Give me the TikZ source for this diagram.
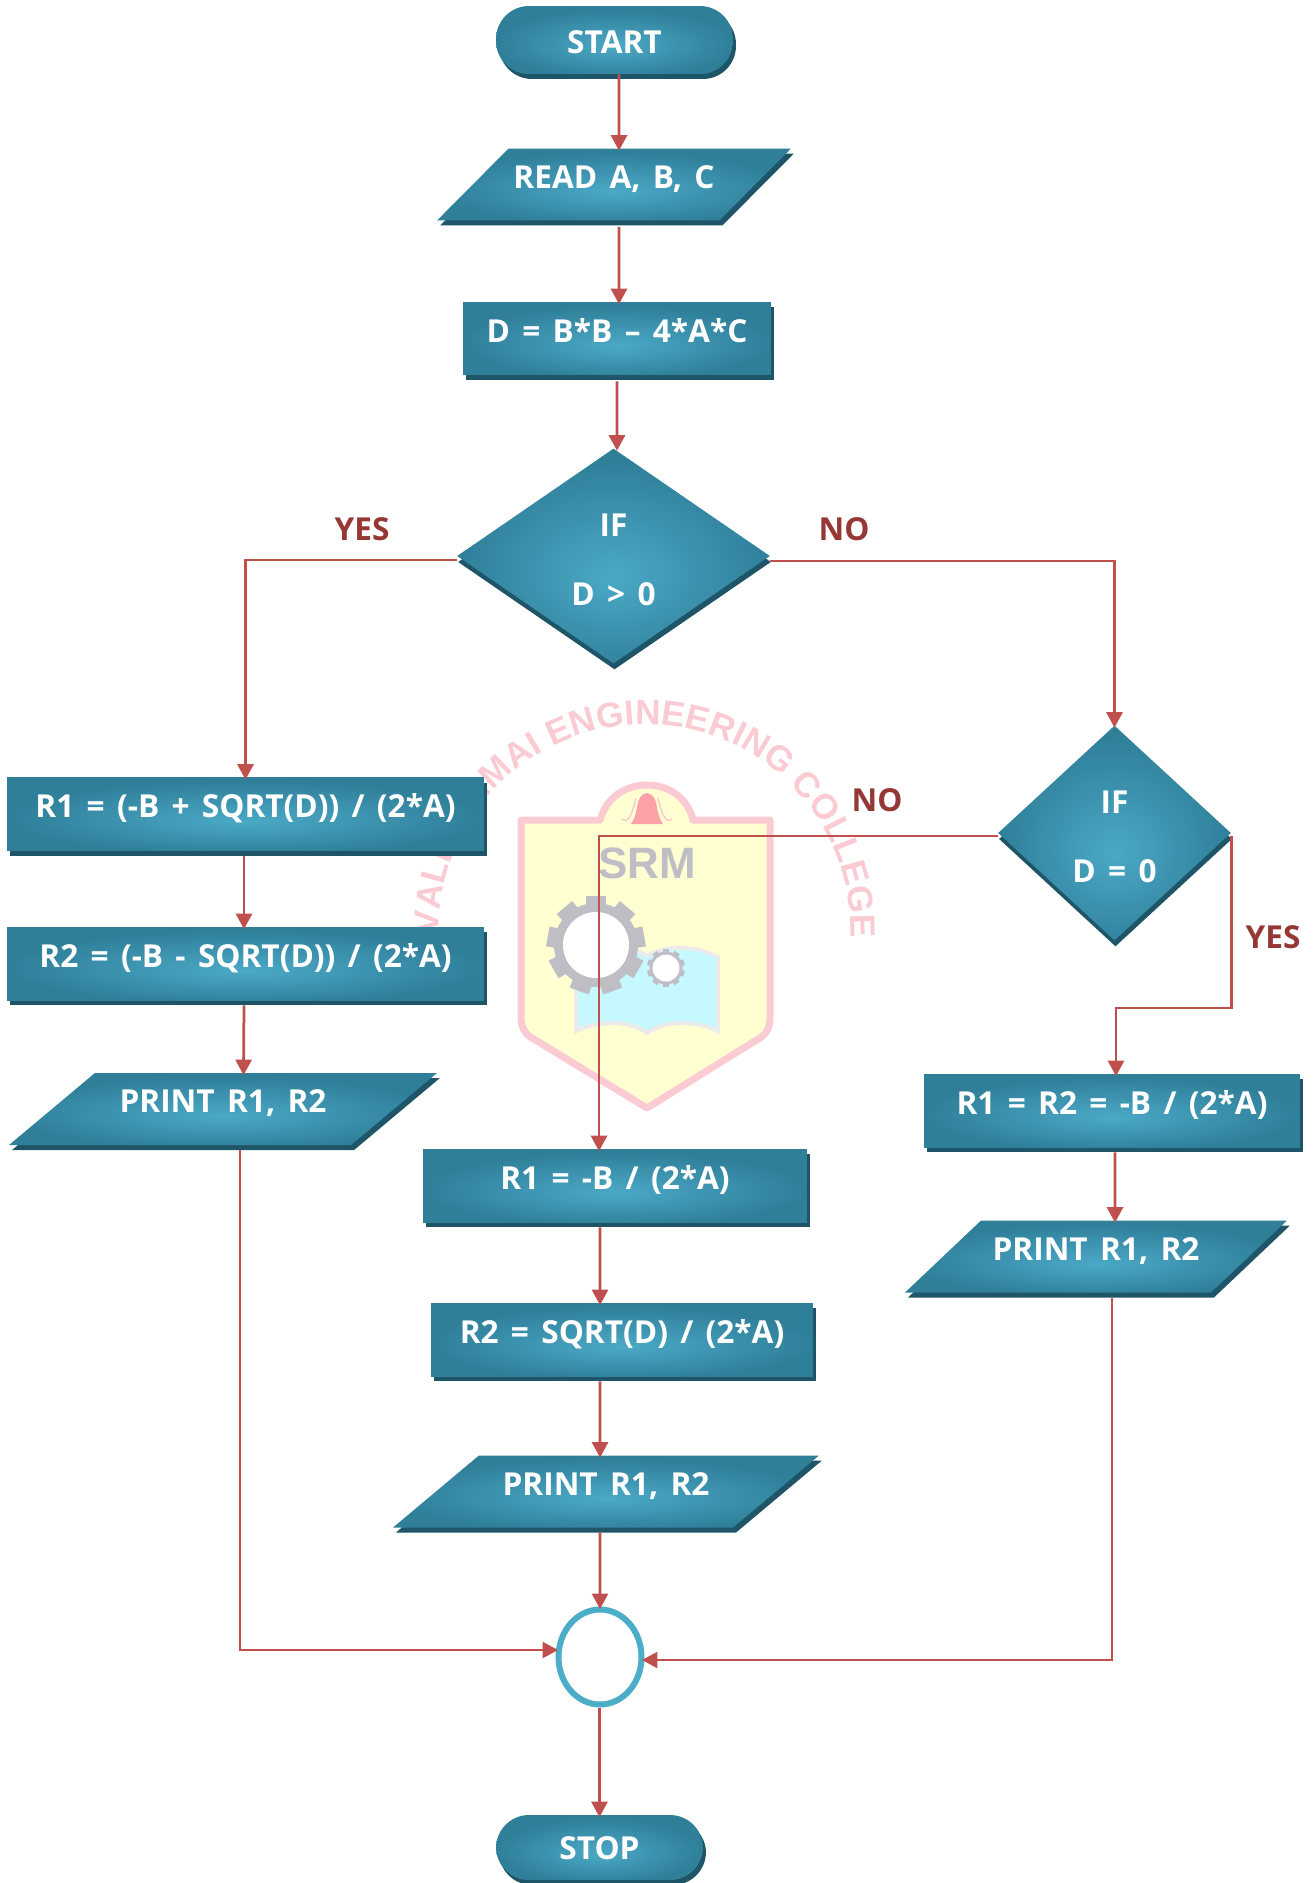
\documentclass[tikz,border=0pt]{standalone}
\usepackage{fontspec}
\setmainfont{Open Sans}[WordSpace=1.5]
\newfontfamily\crestfont{Liberation Sans}
\usetikzlibrary{arrows.meta,shapes.geometric,shadows,decorations.text}
\definecolor{tealglow}{HTML}{4AA9C6}
\definecolor{tealmid}{HTML}{3C90AC}
\definecolor{tealedge}{HTML}{2F7F99}
\definecolor{tealdark}{HTML}{1F5568}
\definecolor{flowred}{HTML}{C0504D}
\definecolor{answerred}{HTML}{953735}
\definecolor{ringblue}{HTML}{4BADC8}
\definecolor{crestpink}{HTML}{FBCBD3}
\definecolor{crestyellow}{HTML}{FFFFD2}
\definecolor{crestgrey}{HTML}{BEBEC4}
\definecolor{crestcyan}{HTML}{C6F8FF}
\pgfdeclareradialshading{tealradial}{\pgfpoint{0bp}{-5bp}}{color(0bp)=(tealglow); color(9bp)=(tealmid!60!tealglow); color(25bp)=(tealedge); color(50bp)=(tealedge)}
\begin{document}
\begin{tikzpicture}[
    x=0.02cm, y=-0.02cm,
    solid3d/.style={shading=tealradial, text=white, font=\fontsize{18}{20}\selectfont\bfseries, inner sep=0pt, align=center},
    procbox/.style={rectangle, solid3d, minimum height=1.46cm, text height=0.5cm, text depth=0.36cm,
        general shadow={fill=tealdark, shadow xshift=0.06cm, shadow yshift=-0.1cm}},
    iobox/.style={trapezium, solid3d, trapezium stretches body, minimum height=1.44cm, text height=0.5cm, text depth=0.36cm,
        general shadow={fill=tealdark, shadow xshift=0.06cm, shadow yshift=-0.1cm}},
    termbox/.style={rectangle, solid3d, rounded corners=0.66cm, text height=0.46cm, text depth=0cm,
        general shadow={fill=tealdark, shadow xshift=0.06cm, shadow yshift=-0.1cm}},
    decisionbox/.style={diamond, solid3d, minimum height=4.3cm, general shadow={fill=tealdark, shadow xshift=0.02cm, shadow yshift=-0.12cm}},
    flow/.style={draw=flowred, line width=0.055cm, shorten >=-0.05cm, -{Triangle[length=0.31cm,width=0.32cm]}},
    answer/.style={text=answerred, font=\fontsize{18}{20}\selectfont\bfseries, inner sep=0pt}
]
    \useasboundingbox (0,0) rectangle (1315,1883);

    % College crest behind the chart
    \draw[crestpink, line width=0.14cm, fill=crestyellow, line join=round]
        (521,820) -- (600,820) .. controls (606,798) and (625,785) .. (647,785)
        .. controls (669,785) and (688,798) .. (693,820) -- (770,820) -- (770,1017)
        .. controls (770,1030) and (765,1036) .. (755,1041) -- (647,1108) -- (537,1041)
        .. controls (527,1036) and (521,1030) .. (521,1017) -- cycle;
    \fill[crestpink!80!red] (631,824) .. controls (640,812) and (634,795) .. (647,793)
        .. controls (660,795) and (654,812) .. (663,824) -- cycle;
    \draw[crestpink, line width=0.03cm] (622,819) .. controls (628,824) and (632,815) .. (636,798);
    \draw[crestpink, line width=0.03cm] (672,819) .. controls (666,824) and (662,815) .. (658,798);
    \fill[crestcyan, draw=white!92!black, line width=0.08cm]
        (576,953) .. controls (610,940) and (630,945) .. (647,956)
        .. controls (665,945) and (695,945) .. (718,957) -- (718,1031)
        .. controls (695,1020) and (665,1020) .. (647,1033)
        .. controls (630,1020) and (600,1020) .. (576,1031) -- cycle;
    \foreach \toothangle in {0,40,...,320}
        \fill[crestgrey, shift={(596,945)}, rotate=\toothangle] (-10,-49) rectangle (10,0);
    \fill[crestgrey] (596,945) circle (0.84cm);
    \fill[white] (596,945) circle (0.66cm);
    \foreach \toothangle in {0,36,...,324}
        \fill[crestgrey, shift={(666,968)}, rotate=\toothangle] (-3,-19) rectangle (3,0);
    \fill[crestgrey] (666,968) circle (0.33cm);
    \fill[white] (666,968) circle (0.27cm);
    \node[text=crestgrey, font=\crestfont\fontsize{25}{27}\selectfont\bfseries, inner sep=0pt] (crestname) at (647,863) {SRM};
    \path[decorate, decoration={text along path, text align={fit to path},
        text={|\crestfont\fontsize{20}{20}\selectfont\bfseries\color{crestpink}|VALLIAMMAI ENGINEERING COLLEGE}}]
        (439,934) arc[start angle=181, end angle=-2, radius=4.12cm];

    % Chart nodes
    \node[termbox, minimum width=4.74cm, minimum height=1.36cm, text height=0.56cm] (start) at (614.5,40) {START};
    \node[iobox, trapezium left angle=31, trapezium right angle=149, minimum width=7.08cm] (read) at (614,184.5) {READ A, B, C};
    \node[procbox, minimum width=6.16cm] (disc) at (617,338.5) {D = B*B – 4*A*C};
    \node[decisionbox, minimum width=6.26cm] (ifpos) at (613.5,556) {\rule{0pt}{0.61cm}IF\\[0.68cm]D > 0};

    \node[procbox, minimum width=9.54cm] (pos one) at (245.5,814) {R1 = (-B + SQRT(D)) / (2*A)};
    \node[procbox, minimum width=9.54cm] (pos two) at (245.5,963.5) {R2 = (-B - SQRT(D)) / (2*A)};
    \node[iobox, trapezium left angle=26.6, trapezium right angle=153.4, minimum width=8.56cm] (pos print) at (223,1109) {PRINT R1, R2};

    \node[decisionbox, minimum width=4.66cm] (ifzero) at (1114.5,833) {\rule{0pt}{0.61cm}IF\\[0.68cm]D = 0};
    \node[procbox, minimum width=7.52cm] (zero one) at (1112,1110.5) {R1 = R2 = -B / (2*A)};
    \node[iobox, trapezium left angle=29.5, trapezium right angle=150.5, minimum width=7.64cm] (zero print) at (1096,1256.5) {PRINT R1, R2};

    \node[procbox, minimum width=7.68cm] (neg one) at (615,1185.5) {R1 = -B / (2*A)};
    \node[procbox, minimum width=7.64cm] (neg two) at (622,1339.5) {R2 = SQRT(D) / (2*A)};
    \node[iobox, trapezium left angle=26.6, trapezium right angle=153.4, minimum width=8.52cm] (neg print) at (606,1491.5) {PRINT R1, R2};

    \node[ellipse, draw=ringblue, line width=0.12cm, fill=white, minimum width=1.66cm, minimum height=1.9cm, inner sep=0pt] (merge) at (600,1657) {};
    \node[termbox, minimum width=4.14cm, minimum height=1.3cm] (stop) at (599.5,1847.5) {STOP};
    \coordinate (zero bend) at (1116,1008);

    % Connectors
    \draw[flow] ([xshift=0.09cm]start.south) -- ([xshift=0.1cm]read.north);
    \draw[flow] ([shift={(0.1cm,-0.12cm)}]read.south) -- ([xshift=0.04cm]disc.north);
    \draw[flow] ([yshift=-0.12cm]disc.south) -- ([xshift=0.07cm]ifpos.north);
    \draw[flow] ([yshift=-0.08cm]ifpos.west) -| (pos one.north);
    \draw[flow] ([yshift=-0.1cm]ifpos.east) -| (ifzero.north);
    \draw[flow] ([shift={(-0.03cm,-0.1cm)}]pos one.south) -- ([xshift=-0.03cm]pos two.north);
    \draw[flow] ([shift={(-0.03cm,-0.1cm)}]pos two.south) -- ([xshift=0.41cm]pos print.north);
    \draw[flow] ([shift={(0.34cm,-0.1cm)}]pos print.south) |- ([yshift=0.14cm]merge.west);
    \draw[flow] ([yshift=-0.06cm]ifzero.west) -| ([xshift=-0.32cm]neg one.north);
    \draw[flow] ([yshift=-0.06cm]ifzero.east) |- (zero bend) -- (zero bend |- zero one.north);
    \draw[flow] ([shift={(0.06cm,-0.1cm)}]zero one.south) -- ([xshift=0.38cm]zero print.north);
    \draw[flow] ([shift={(0.32cm,-0.1cm)}]zero print.south) |- ([yshift=-0.06cm]merge.east);
    \draw[flow] ([shift={(-0.3cm,-0.1cm)}]neg one.south) -- ([xshift=-0.44cm]neg two.north);
    \draw[flow] ([shift={(-0.44cm,-0.1cm)}]neg two.south) -- ([xshift=-0.12cm]neg print.north);
    \draw[flow] ([shift={(-0.12cm,-0.1cm)}]neg print.south) -- (merge.north);
    \draw[flow] (merge.south -| stop.north) -- (stop.north);

    % Branch labels
    \node[answer] (yes pos) at (362,529) {YES};
    \node[answer] (no pos) at (844,529) {NO};
    \node[answer] (no zero) at (877,800) {NO};
    \node[answer] (yes zero) at (1273,937) {YES};
\end{tikzpicture}
\end{document}
